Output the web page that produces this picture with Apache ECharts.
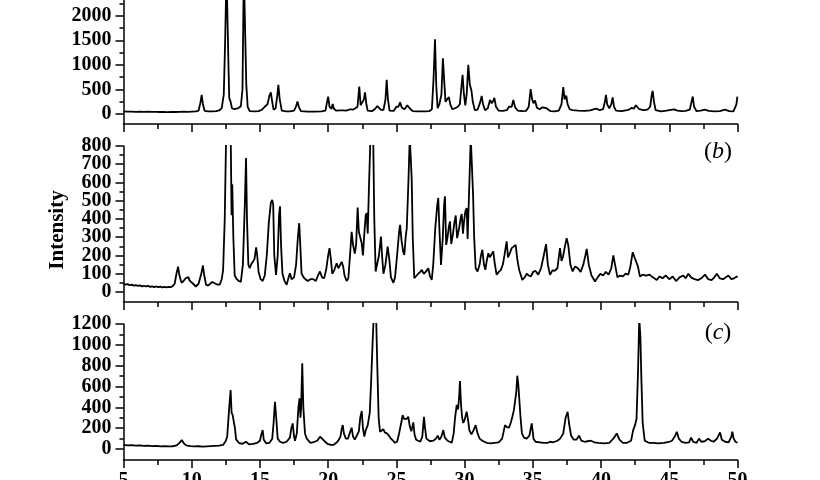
<!DOCTYPE html>
<html><head><meta charset="utf-8">
<script src="https://cdn.jsdelivr.net/npm/echarts@6/dist/echarts.min.js"></script>
<style>html,body{margin:0;padding:0;background:#fff}#c{width:820px;height:480px}</style>
</head><body><div id="c"></div>
<script>
// 2-theta (deg) vs intensity, pattern (a)
const patternA = [[5.0,55],[5.3,50],[5.6,52],[5.9,48],[6.2,50],[6.5,47],[6.8,49],[7.1,45],[7.4,47],[7.7,44],[7.9,46],[8.2,43],[8.5,45],[8.8,44],[9.1,48],[9.4,50],[9.7,47],[10.0,52],[10.3,55],[10.5,70],[10.65,250],[10.73,390],[10.82,200],[10.95,65],[11.2,55],[11.5,55],[11.8,60],[12.0,75],[12.2,120],[12.35,400],[12.45,1500],[12.55,2900],[12.62,2900],[12.7,900],[12.75,330],[12.85,250],[12.95,120],[13.1,100],[13.3,110],[13.45,130],[13.6,160],[13.72,500],[13.82,2900],[13.92,2900],[14.0,600],[14.1,150],[14.25,60],[14.6,55],[14.9,60],[15.15,90],[15.35,150],[15.55,200],[15.7,380],[15.8,440],[15.9,250],[16.0,90],[16.15,120],[16.28,400],[16.35,595],[16.45,300],[16.6,70],[16.9,55],[17.2,55],[17.5,70],[17.65,160],[17.75,255],[17.85,150],[18.0,60],[18.5,50],[19.0,50],[19.5,55],[19.8,70],[19.92,250],[20.0,357],[20.1,150],[20.25,110],[20.33,209],[20.42,110],[20.6,70],[20.85,75],[20.95,100],[21.1,75],[21.3,70],[21.5,85],[21.65,100],[21.8,90],[22.0,120],[22.15,150],[22.28,560],[22.38,180],[22.5,150],[22.62,300],[22.7,440],[22.8,200],[22.9,70],[23.2,60],[23.45,110],[23.6,165],[23.72,170],[23.85,90],[24.05,80],[24.2,300],[24.29,696],[24.38,300],[24.5,70],[24.8,65],[25.0,150],[25.07,185],[25.15,150],[25.27,240],[25.4,130],[25.6,100],[25.8,180],[25.87,210],[26.0,110],[26.2,60],[26.5,55],[26.8,55],[27.1,55],[27.4,60],[27.6,100],[27.72,700],[27.83,1520],[27.92,600],[28.02,120],[28.15,200],[28.3,400],[28.41,1135],[28.5,700],[28.6,250],[28.72,300],[28.85,345],[28.95,200],[29.1,100],[29.3,120],[29.5,150],[29.65,200],[29.75,500],[29.85,797],[29.95,400],[30.05,180],[30.15,400],[30.27,1000],[30.38,600],[30.5,480],[30.6,250],[30.75,80],[30.95,90],[31.15,250],[31.25,371],[31.35,200],[31.5,80],[31.7,120],[31.86,290],[31.98,220],[32.1,270],[32.18,330],[32.3,150],[32.5,70],[32.8,65],[33.1,80],[33.25,150],[33.33,170],[33.45,150],[33.57,290],[33.7,140],[33.9,70],[34.2,60],[34.5,65],[34.7,150],[34.84,507],[34.95,300],[35.05,220],[35.16,277],[35.3,130],[35.5,100],[35.7,140],[35.84,170],[36.0,120],[36.3,60],[36.6,55],[36.9,70],[37.1,200],[37.23,547],[37.33,300],[37.45,375],[37.55,200],[37.7,100],[37.9,80],[38.33,70],[38.8,65],[39.2,75],[39.5,100],[39.68,110],[39.9,80],[40.15,100],[40.28,250],[40.36,390],[40.45,200],[40.6,120],[40.75,200],[40.85,340],[40.95,150],[41.1,70],[41.5,60],[41.9,80],[42.1,100],[42.25,130],[42.4,110],[42.55,180],[42.66,215],[42.8,100],[43.1,80],[43.4,90],[43.6,150],[43.72,400],[43.78,473],[43.88,250],[44.0,80],[44.4,55],[44.8,70],[45.1,85],[45.35,95],[45.6,70],[45.9,60],[46.2,65],[46.5,90],[46.63,250],[46.72,357],[46.82,150],[47.0,60],[47.3,70],[47.6,90],[47.9,65],[48.3,55],[48.7,60],[49.08,90],[49.4,60],[49.7,55],[49.82,55],[49.92,200],[49.99,357],[50.0,357]];

// pattern (b)
const patternB = [[5.0,45],[5.15,40],[5.3,43],[5.45,37],[5.6,40],[5.75,35],[5.9,38],[6.05,33],[6.2,36],[6.35,31],[6.5,34],[6.65,30],[6.8,33],[6.95,28],[7.1,31],[7.25,27],[7.4,30],[7.55,26],[7.7,29],[7.85,25],[8.0,28],[8.15,25],[8.3,28],[8.45,26],[8.6,32],[8.75,45],[8.88,100],[9.0,139],[9.1,90],[9.25,50],[9.4,60],[9.55,75],[9.68,70],[9.75,81],[9.85,62],[9.95,68],[10.1,45],[10.3,30],[10.5,45],[10.7,100],[10.82,145],[10.92,90],[11.05,40],[11.2,35],[11.35,45],[11.5,55],[11.6,60],[11.75,45],[11.9,40],[12.05,40],[12.2,70],[12.3,120],[12.42,400],[12.52,850],[12.86,850],[12.92,420],[12.97,590],[13.05,300],[13.15,90],[13.3,70],[13.45,60],[13.6,55],[13.75,150],[13.9,500],[13.98,734],[14.05,400],[14.15,150],[14.25,130],[14.35,150],[14.47,157],[14.6,180],[14.72,244],[14.8,200],[14.9,110],[15.05,70],[15.2,60],[15.35,90],[15.5,200],[15.65,380],[15.8,490],[15.9,505],[15.97,480],[16.05,200],[16.18,93],[16.3,200],[16.4,420],[16.47,469],[16.55,250],[16.65,100],[16.8,60],[16.96,40],[17.1,80],[17.2,103],[17.32,70],[17.5,80],[17.65,150],[17.78,300],[17.88,377],[17.96,250],[18.05,100],[18.25,75],[18.5,60],[18.7,70],[18.91,70],[19.1,60],[19.25,90],[19.4,112],[19.55,80],[19.7,75],[19.85,120],[20.0,200],[20.1,240],[20.2,180],[20.3,100],[20.45,120],[20.62,157],[20.75,130],[20.85,140],[20.99,165],[21.1,140],[21.2,90],[21.35,60],[21.48,75],[21.6,200],[21.72,330],[21.82,260],[21.95,210],[22.05,260],[22.16,463],[22.25,330],[22.35,320],[22.45,270],[22.55,200],[22.65,320],[22.75,420],[22.82,432],[22.9,320],[22.98,550],[23.1,850],[23.3,850],[23.38,400],[23.48,112],[23.58,120],[23.72,200],[23.87,304],[23.95,200],[24.05,100],[24.2,150],[24.36,249],[24.48,180],[24.6,80],[24.78,50],[24.9,80],[25.05,200],[25.2,330],[25.27,368],[25.38,280],[25.5,220],[25.58,203],[25.68,300],[25.76,350],[25.88,600],[25.98,850],[26.05,850],[26.12,624],[26.2,300],[26.31,75],[26.45,85],[26.6,100],[26.75,110],[26.86,121],[27.0,100],[27.15,110],[27.34,130],[27.45,90],[27.59,66],[27.7,150],[27.85,350],[28.0,480],[28.07,515],[28.15,350],[28.27,148],[28.4,300],[28.5,480],[28.56,524],[28.65,258],[28.75,300],[28.85,360],[28.93,387],[29.02,263],[29.15,320],[29.25,380],[29.35,419],[29.45,295],[29.6,350],[29.72,410],[29.79,427],[29.88,320],[29.95,380],[30.05,440],[30.15,460],[30.22,290],[30.35,600],[30.45,850],[30.55,850],[30.62,533],[30.7,300],[30.81,130],[30.95,112],[31.1,150],[31.2,200],[31.3,231],[31.42,150],[31.52,121],[31.62,170],[31.74,212],[31.85,190],[31.95,200],[32.1,222],[32.22,150],[32.35,94],[32.5,110],[32.65,120],[32.8,150],[32.92,200],[33.08,277],[33.18,190],[33.3,210],[33.45,240],[33.58,230],[33.74,258],[33.86,180],[34.0,120],[34.23,66],[34.4,80],[34.55,100],[34.7,90],[34.85,85],[35.04,112],[35.2,115],[35.4,95],[35.6,130],[35.8,200],[35.97,262],[36.1,150],[36.26,94],[36.45,120],[36.6,115],[36.8,130],[36.99,240],[37.1,170],[37.2,190],[37.35,250],[37.48,295],[37.6,255],[37.75,150],[37.92,113],[38.1,140],[38.3,130],[38.5,110],[38.7,150],[38.85,200],[38.95,236],[39.1,150],[39.3,90],[39.56,57],[39.75,80],[39.95,100],[40.15,90],[40.35,110],[40.55,95],[40.75,130],[40.9,200],[41.05,140],[41.2,80],[41.4,90],[41.6,85],[41.8,100],[42.0,95],[42.15,140],[42.32,218],[42.45,190],[42.56,200],[42.7,140],[42.85,85],[43.05,95],[43.3,90],[43.55,95],[43.8,80],[44.08,66],[44.3,85],[44.5,75],[44.75,90],[45.0,70],[45.25,85],[45.5,60],[45.75,80],[46.03,90],[46.2,75],[46.4,100],[46.6,80],[46.85,70],[47.1,65],[47.35,75],[47.62,95],[47.85,70],[48.1,65],[48.3,80],[48.48,100],[48.7,75],[48.95,70],[49.15,80],[49.33,90],[49.55,70],[49.75,75],[49.94,85],[50.0,80]];

// pattern (c)
const patternC = [[5.0,40],[5.3,36],[5.6,38],[5.9,33],[6.2,35],[6.5,30],[6.8,32],[7.1,28],[7.4,30],[7.7,26],[8.0,28],[8.3,25],[8.6,27],[8.9,35],[9.1,60],[9.27,86],[9.42,55],[9.6,35],[9.9,28],[10.2,25],[10.5,27],[10.8,24],[11.1,26],[11.4,28],[11.7,30],[12.0,32],[12.3,40],[12.5,80],[12.6,120],[12.75,400],[12.85,566],[12.92,350],[13.0,326],[13.1,250],[13.17,200],[13.25,93],[13.45,60],[13.7,50],[13.98,70],[14.2,45],[14.5,50],[14.8,60],[15.0,80],[15.1,140],[15.2,182],[15.28,90],[15.45,55],[15.7,60],[15.9,100],[16.0,250],[16.1,454],[16.2,290],[16.3,100],[16.47,70],[16.7,60],[16.95,70],[17.2,110],[17.3,200],[17.4,246],[17.5,120],[17.57,80],[17.7,150],[17.82,400],[17.9,486],[17.97,300],[18.02,400],[18.1,822],[18.18,400],[18.3,150],[18.43,100],[18.7,60],[19.0,70],[19.2,80],[19.4,118],[19.55,100],[19.7,80],[19.95,50],[20.2,40],[20.38,40],[20.6,60],[20.74,80],[20.9,120],[21.0,200],[21.07,230],[21.15,150],[21.3,100],[21.45,100],[21.6,160],[21.72,205],[21.82,120],[21.95,90],[22.1,130],[22.25,170],[22.35,300],[22.46,365],[22.55,200],[22.65,120],[22.75,180],[22.9,230],[23.05,350],[23.15,650],[23.25,1000],[23.33,1250],[23.52,1250],[23.6,800],[23.7,300],[23.8,166],[23.92,170],[24.04,190],[24.15,160],[24.3,150],[24.45,130],[24.6,100],[24.75,80],[24.9,60],[25.05,70],[25.2,150],[25.35,250],[25.46,326],[25.56,290],[25.65,300],[25.75,290],[25.87,310],[25.98,220],[26.1,170],[26.24,256],[26.33,140],[26.45,90],[26.6,80],[26.75,70],[26.9,120],[27.02,310],[27.1,200],[27.2,100],[27.45,75],[27.7,80],[27.9,100],[28.03,128],[28.15,90],[28.3,120],[28.44,182],[28.55,110],[28.75,80],[29.06,60],[29.2,150],[29.3,300],[29.42,422],[29.52,380],[29.6,500],[29.66,653],[29.74,420],[29.82,300],[29.9,250],[30.0,280],[30.15,358],[30.25,280],[30.35,180],[30.5,140],[30.65,180],[30.81,230],[30.95,150],[31.1,100],[31.3,80],[31.6,60],[31.9,55],[32.2,60],[32.5,65],[32.75,100],[32.96,230],[33.1,210],[33.25,205],[33.4,260],[33.5,310],[33.62,380],[33.69,390],[33.79,550],[33.86,704],[33.93,630],[33.99,640],[34.1,300],[34.2,150],[34.35,110],[34.55,100],[34.75,130],[34.92,246],[35.05,100],[35.2,70],[35.5,65],[35.8,60],[36.1,60],[36.26,70],[36.5,65],[36.8,80],[37.0,100],[37.23,150],[37.4,300],[37.55,358],[37.65,250],[37.8,130],[38.0,90],[38.2,90],[38.39,130],[38.55,80],[38.8,70],[39.0,75],[39.26,80],[39.5,65],[39.8,60],[40.2,55],[40.6,60],[40.9,100],[41.15,150],[41.35,90],[41.6,60],[41.9,60],[42.2,80],[42.35,180],[42.49,230],[42.6,290],[42.7,700],[42.8,1250],[42.88,1090],[42.95,700],[43.05,250],[43.2,80],[43.5,60],[43.8,60],[44.2,55],[44.6,60],[45.0,70],[45.2,80],[45.4,120],[45.55,166],[45.7,100],[45.9,70],[46.2,60],[46.45,65],[46.6,110],[46.75,70],[47.0,60],[47.18,100],[47.35,70],[47.6,75],[47.85,100],[48.05,80],[48.25,70],[48.5,100],[48.72,160],[48.85,90],[49.1,70],[49.35,65],[49.55,120],[49.62,166],[49.72,100],[49.85,70],[50.0,60]];

// axis tick values
const xTicks = [5, 50, 5];           // min, max, step (degrees 2θ)
const yLabelsA = [0, 500, 1000, 1500, 2000];
const yMinorA = [250, 750, 1250, 1750, 2250];
const yLabelsB = [0, 100, 200, 300, 400, 500, 600, 700, 800];
const yMinorB = [50, 150, 250, 350, 450, 550, 650, 750];
const yLabelsC = [0, 200, 400, 600, 800, 1000, 1200];
const yMinorC = [100, 300, 500, 700, 900, 1100];
const panelTags = ['', 'b', 'c'];
const yTitle = 'Intensity';

const FONT = 'Liberation Serif';
const chart = echarts.init(document.getElementById('c'), null, {renderer: 'canvas'});

const grids = [
  {left: 123.5, right: 82.5, top: -9, height: 133, outerBoundsMode: 'none', containLabel: false},
  {left: 123.5, right: 82.5, top: 146, height: 156, outerBoundsMode: 'none', containLabel: false},
  {left: 123.5, right: 82.5, top: 324, height: 136, outerBoundsMode: 'none', containLabel: false}
];
const yRanges = [[-200, 2500], [-55, 800], [-105, 1200]];
const yLabs = [yLabelsA, yLabelsB, yLabelsC];
const yMins = [yMinorA, yMinorB, yMinorC];
const pats = [patternA, patternB, patternC];
const compact = v => '{t|' + v + '}';
const labRich = {t: {fontFamily: FONT, fontWeight: 'bold', fontSize: 20, color: '#000', height: 12, lineHeight: 12}};
const tickStyle = {color: '#000', width: 1.5};

const xAxis = [], yAxis = [], series = [];
grids.forEach((g, i) => {
  xAxis.push({
    type: 'value', gridIndex: i, min: xTicks[0], max: xTicks[1], interval: xTicks[2],
    position: 'bottom',
    axisLine: {onZero: false, lineStyle: tickStyle},
    axisTick: {length: 8, lineStyle: tickStyle},
    minorTick: {show: true, splitNumber: 2, length: 5, lineStyle: tickStyle},
    splitLine: {show: false}, minorSplitLine: {show: false},
    axisLabel: {show: i === 2, margin: 15, formatter: compact, rich: labRich, showMinLabel: true, showMaxLabel: true,
      color: '#000', fontFamily: FONT, fontWeight: 'bold', fontSize: 20}
  });
  const evenLabs = yLabs[i].filter((v, k) => k % 2 === 0);
  const oddLabs = yLabs[i].filter((v, k) => k % 2 === 1);
  [evenLabs, oddLabs].forEach((labs, k) => {
    yAxis.push({
      type: 'value', gridIndex: i, min: yRanges[i][0], max: yRanges[i][1], position: 'left',
      axisLine: {show: k === 0, onZero: false, lineStyle: tickStyle},
      axisTick: {show: true, length: 8, customValues: labs, lineStyle: tickStyle},
      axisLabel: {show: true, customValues: labs, formatter: compact, rich: labRich, showMinLabel: true, showMaxLabel: true,
        hideOverlap: false, margin: 12, color: '#000', fontFamily: FONT, fontWeight: 'bold', fontSize: 20},
      splitLine: {show: false}
    });
  });
  yAxis.push({
    type: 'value', gridIndex: i, min: yRanges[i][0], max: yRanges[i][1], position: 'left',
    axisLine: {show: false, onZero: false},
    axisTick: {show: true, length: 4, customValues: yMins[i], lineStyle: tickStyle},
    axisLabel: {show: false},
    splitLine: {show: false}
  });
  series.push({
    type: 'line', xAxisIndex: i, yAxisIndex: i * 3, data: pats[i],
    showSymbol: false, symbol: 'none', smooth: false, clip: true,
    lineStyle: {color: '#000', width: 1.8}, silent: true, animation: false
  });
});

const graphic = [
  {type: 'text', x: 58, y: 230, rotation: Math.PI / 2,
   style: {text: yTitle, font: 'bold 21px "' + FONT + '"', fill: '#000', align: 'center', verticalAlign: 'middle'}}
];
[[1, 152], [2, 333]].forEach(([i, y]) => {
  graphic.push({type: 'text', x: 718, y: y,
    style: {text: '{n|(}{i|' + panelTags[i] + '}{n|)}', align: 'center', verticalAlign: 'middle',
      rich: {n: {fontFamily: FONT, fontSize: 24, fill: '#000', color: '#000'},
             i: {fontFamily: FONT, fontSize: 24, fontStyle: 'italic', fill: '#000', color: '#000'}}}});
});

chart.setOption({animation: false, backgroundColor: '#fff', grid: grids, xAxis, yAxis, series, graphic});
</script></body></html>
